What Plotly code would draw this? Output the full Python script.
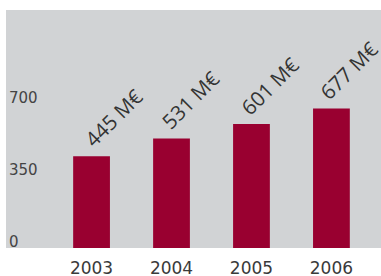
import plotly.graph_objects as go

years = ["2003", "2004", "2005", "2006"]
values = [445, 531, 601, 677]
labels = ["445 M€", "531 M€", "601 M€", "677 M€"]
y_ticks = [0, 350, 700]
y_tick_text = ["0", "350", "700"]

fig = go.Figure()
fig.add_trace(go.Bar(
    x=years, y=values, width=0.46,
    marker=dict(color="#990030", line=dict(width=0)),
    hoverinfo="skip",
))

xshifts = [21.5, 18.5, 18, 17.5]
for i, (v, lab, xs) in enumerate(zip(values, labels, xshifts)):
    fig.add_annotation(
        x=i, y=v, xref="x", yref="y", text=lab, showarrow=False, textangle=-45,
        xanchor="center", yanchor="middle", xshift=xs, yshift=38.5,
        font=dict(family="Open Sans", size=20.5, color="#333333"),
    )

for t, tt in zip(y_ticks, y_tick_text):
    fig.add_annotation(
        x=0, y=t, xref="paper", yref="y", text=tt, showarrow=False,
        xanchor="left", yanchor="middle", xshift=1, yshift=6,
        font=dict(family="DejaVu Sans", size=15, color="#444444"),
    )

fig.update_layout(
    width=381, height=276,
    margin=dict(l=6, r=0, t=10, b=28, autoexpand=False),
    paper_bgcolor="white", plot_bgcolor="#d1d3d5",
    showlegend=False,
    xaxis=dict(
        type="category", range=[-1.07, 3.62], automargin=False,
        showgrid=False, zeroline=False, showline=False,
        ticks="outside", ticklen=5, tickcolor="rgba(0,0,0,0)",
        tickfont=dict(family="DejaVu Sans", size=17, color="#3a3a3a"),
    ),
    yaxis=dict(
        range=[0, 1154], showticklabels=False, automargin=False,
        showgrid=False, zeroline=False, showline=False, ticks="",
    ),
)

fig.write_html("out.html", post_script="document.body.style.margin='0';",
               config={"displayModeBar": False})
